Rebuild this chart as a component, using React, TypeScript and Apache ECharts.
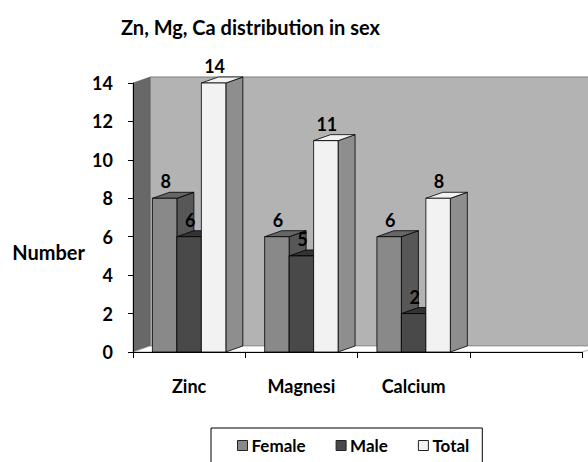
import React, { useEffect, useRef } from "react";
import * as echarts from "echarts";

const categories = ["Zinc", "Magnesi", "Calcium", ""];
const seriesNames = ["Female", "Male", "Total"];
const female = [8, 6, 6];
const male = [6, 5, 2];
const total = [14, 11, 8];
const yTicks = { min: 0, max: 14, interval: 2 };
const yAxisTitle = "Number";

const FONT = "Lato";
const DX = 17;
const DY = -6;

const palettes = [
  { front: "#898989", top: "#666666", side: "#575757" },
  { front: "#494949", top: "#333333", side: "#3c3c3c" },
  { front: "#f2f2f2", top: "#f2f2f2", side: "#8e8e8e" },
];

function makeBarSeries(name: string, values: number[], idx: number) {
  const pal = palettes[idx];
  const off = idx - 1.5;
  return {
    type: "custom",
    name,
    z: 3 + idx,
    silent: true,
    itemStyle: { color: pal.front, borderColor: "#000", borderWidth: 1 },
    data: values.map((v, i) => [i, v]),
    renderItem: (params: any, api: any) => {
      const ci = api.value(0);
      const v = api.value(1);
      const top = api.coord([ci, v]);
      const bot = api.coord([ci, 0]);
      const band = api.size([1, 0])[0];
      const bw = band * 0.218;
      const x0 = top[0] + off * bw;
      const x1 = x0 + bw;
      const yT = top[1];
      const yB = bot[1];
      const stroke = { stroke: "#000", lineWidth: 0.8 };
      return {
        type: "group",
        children: [
          {
            type: "polygon",
            shape: { points: [[x1, yT], [x1 + DX, yT + DY], [x1 + DX, yB + DY], [x1, yB]] },
            style: { fill: pal.side, ...stroke },
          },
          {
            type: "polygon",
            shape: { points: [[x0, yT], [x0 + DX, yT + DY], [x1 + DX, yT + DY], [x1, yT]] },
            style: { fill: pal.top, ...stroke },
          },
          {
            type: "rect",
            shape: { x: x0, y: yT, width: bw, height: yB - yT },
            style: { fill: pal.front, ...stroke },
          },
          {
            type: "text",
            style: {
              text: String(v),
              x: x0 + bw / 2 + 1,
              y: yT - 8,
              align: "center",
              verticalAlign: "bottom",
              fontSize: 18,
              fontWeight: "bold",
              fontFamily: FONT,
              fill: "#000",
            },
          },
        ],
      };
    },
  };
}

export default function App() {
  const ref = useRef<HTMLDivElement>(null);
  useEffect(() => {
    if (!ref.current) return;
    const chart = echarts.init(ref.current, undefined, { renderer: "svg" });
    const wallSeries = {
      type: "custom",
      name: "walls",
      silent: true,
      z: -1,
      data: [[0, 0]],
      renderItem: (params: any, api: any) => {
        const cs = params.coordSys;
        const x = cs.x, y = cs.y, w = cs.width, h = cs.height;
        return {
          type: "group",
          children: [
            {
              type: "rect",
              shape: { x: x + DX, y: y + DY, width: w + 20, height: h },
              style: { fill: "#b3b3b3", stroke: "#7a7a7a", lineWidth: 1 },
            },
            {
              type: "polygon",
              shape: { points: [[x, y], [x + DX, y + DY], [x + DX, y + h + DY], [x, y + h]] },
              style: { fill: "#686868", stroke: "#555", lineWidth: 0.5 },
            },
            {
              type: "polygon",
              shape: { points: [[x, y + h], [x + DX, y + h + DY], [x + w + 20, y + h + DY], [x + w, y + h]] },
              style: { fill: "#ffffff", stroke: "#999", lineWidth: 0.8 },
            },
          ],
        };
      },
    };
    chart.setOption({
      animation: false,
      backgroundColor: "#ffffff",
      title: {
        text: "Zn, Mg, Ca distribution in sex",
        left: 116,
        top: 12,
        textStyle: { fontFamily: FONT, fontSize: 20, fontWeight: "bold", color: "#000" },
      },
      graphic: [
        {
          type: "text",
          x: 85,
          y: 252,
          style: {
            text: yAxisTitle,
            align: "right",
            verticalAlign: "middle",
            fontFamily: FONT,
            fontSize: 20,
            fontWeight: "bold",
            fill: "#000",
          },
        },
      ],
      legend: {
        data: seriesNames.map((n) => ({ name: n, icon: "rect" })),
        left: 211,
        top: 428,
        padding: [9, 13, 20, 26],
        itemGap: 30,
        itemWidth: 10,
        itemHeight: 10,
        borderColor: "#000",
        borderWidth: 1,
        borderRadius: 0,
        itemStyle: { borderColor: "#222", borderWidth: 1 },
        textStyle: { fontFamily: FONT, fontSize: 17, fontWeight: "bold", color: "#000", padding: [0, 0, 0, -1] },
      },
      grid: { left: 133, right: 6, top: 83, bottom: 110, containLabel: false },
      xAxis: {
        type: "category",
        data: categories,
        boundaryGap: true,
        axisLine: { show: true, lineStyle: { color: "#000", width: 1 } },
        axisTick: { show: true, length: 6, lineStyle: { color: "#000" } },
        axisLabel: { fontFamily: FONT, fontSize: 18, fontWeight: "bold", color: "#000", margin: 25 },
        splitLine: { show: false },
      },
      yAxis: {
        type: "value",
        min: yTicks.min,
        max: yTicks.max,
        interval: yTicks.interval,
        axisLine: { show: true, lineStyle: { color: "#000", width: 1 } },
        axisTick: { show: true, length: 5, lineStyle: { color: "#000" } },
        axisLabel: { fontFamily: FONT, fontSize: 18, fontWeight: "bold", color: "#000", margin: 20 },
        splitLine: { show: false },
      },
      series: [
        wallSeries,
        makeBarSeries("Female", female, 0),
        makeBarSeries("Male", male, 1),
        makeBarSeries("Total", total, 2),
      ],
    });
    return () => chart.dispose();
  }, []);
  return <div ref={ref} style={{ width: 588, height: 462, position: "absolute", left: 0, top: 0 }} />;
}
